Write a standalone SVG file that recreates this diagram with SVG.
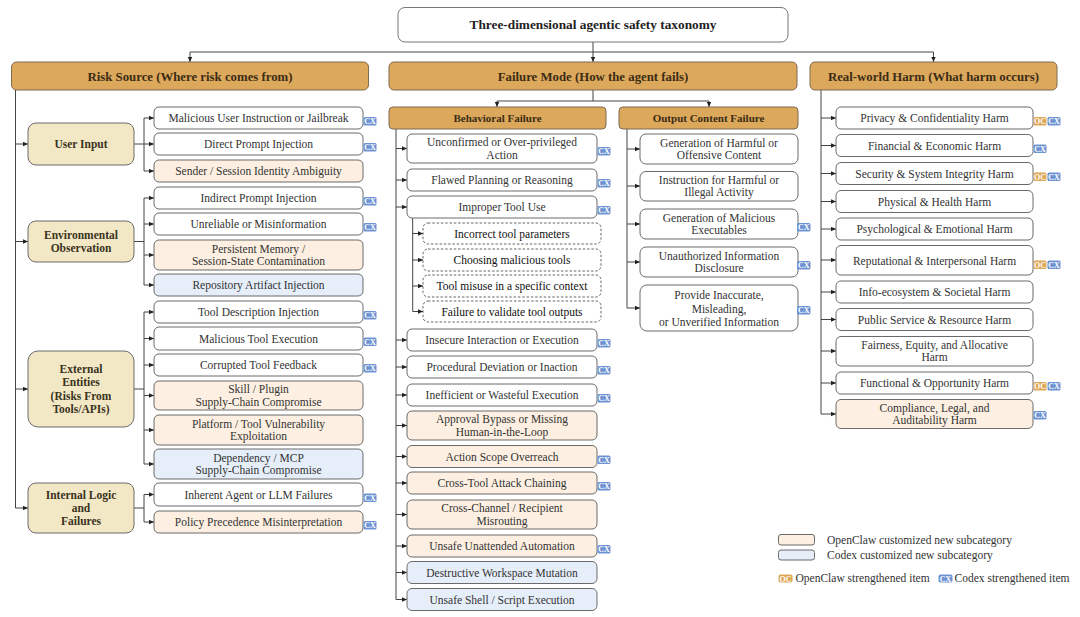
<svg xmlns="http://www.w3.org/2000/svg" width="1080" height="617" viewBox="0 0 1080 617">
<style>
text{font-family:"Liberation Serif","Times New Roman",serif;}
.t{font-size:11.5px;fill:#333;text-anchor:middle;}
.td{font-size:11.5px;fill:#111;text-anchor:middle;}
.hb{font-size:12.8px;font-weight:bold;fill:#3b2c14;text-anchor:middle;}
.sb{font-size:11px;font-weight:bold;fill:#3b2c14;text-anchor:middle;}
.cb{font-size:11.5px;font-weight:bold;fill:#3a3320;text-anchor:middle;}
.title{font-size:13.3px;font-weight:bold;fill:#222;text-anchor:middle;}
.hdr{fill:#DCA85C;stroke:#7d6a4f;stroke-width:1;}
.cat{fill:#F3E8C6;stroke:#6a6a6a;stroke-width:1;}
.lf{fill:#fff;stroke:#6a6a6a;stroke-width:1;}
.pe{fill:#FDF0E2;stroke:#6a6a6a;stroke-width:1;}
.bl{fill:#E6EEFA;stroke:#6a6a6a;stroke-width:1;}
.da{fill:#fff;stroke:#555;stroke-width:0.9;stroke-dasharray:2.5,1.8;}
.cx{fill:#6E93D3;}
.oc{fill:#DDA757;}
.bt{font-size:8px;font-weight:bold;fill:#fff;text-anchor:middle;}
.lg{font-size:11.5px;fill:#333;}
.cn{fill:none;stroke:#444;stroke-width:1;}
.ar{fill:none;stroke:#444;stroke-width:1;marker-end:url(#ah);}
</style>
<defs>
<marker id="ah" markerUnits="userSpaceOnUse" markerWidth="6" markerHeight="6" refX="5" refY="2.2" orient="auto">
<path d="M0,0 L5,2.2 L0,4.4 z" fill="#222"/>
</marker>
</defs>
<rect width="1080" height="617" fill="#fff"/>

<g id="connectors">
<path class="cn" d="M593,42 V52 M190,52 H933.5"/>
<path class="ar" d="M190,52 V62"/>
<path class="ar" d="M593,52 V62"/>
<path class="ar" d="M933.5,52 V62"/>
<!-- left trunk -->
<path class="cn" d="M15.5,90 V508"/>
<path class="ar" d="M15.5,144 H28"/>
<path class="ar" d="M15.5,241.5 H28"/>
<path class="ar" d="M15.5,389 H28"/>
<path class="ar" d="M15.5,508 H28"/>
<!-- user input -->
<path class="cn" d="M134,144 H144 M144,118 V171"/>
<path class="ar" d="M144,118 H154"/>
<path class="ar" d="M144,144 H154"/>
<path class="ar" d="M144,171 H154"/>
<!-- env obs -->
<path class="cn" d="M134,241.5 H144 M144,198 V285"/>
<path class="ar" d="M144,198 H154"/>
<path class="ar" d="M144,224 H154"/>
<path class="ar" d="M144,255 H154"/>
<path class="ar" d="M144,285 H154"/>
<!-- external -->
<path class="cn" d="M134,389 H144 M144,312 V464"/>
<path class="ar" d="M144,312 H154"/>
<path class="ar" d="M144,338.5 H154"/>
<path class="ar" d="M144,365 H154"/>
<path class="ar" d="M144,395.5 H154"/>
<path class="ar" d="M144,430 H154"/>
<path class="ar" d="M144,464 H154"/>
<!-- internal -->
<path class="cn" d="M134,508 H144 M144,494.5 V522"/>
<path class="ar" d="M144,494.5 H154"/>
<path class="ar" d="M144,522 H154"/>
<!-- failure mode -->
<path class="cn" d="M593,90 V101 M497,101 H709"/>
<path class="ar" d="M497,101 V107"/>
<path class="ar" d="M709,101 V107"/>
<!-- behavioral trunk -->
<path class="cn" d="M396,129 V599.5"/>
<path class="ar" d="M396,148.5 H407"/>
<path class="ar" d="M396,180 H407"/>
<path class="ar" d="M396,207 H407"/>
<path class="ar" d="M396,340 H407"/>
<path class="ar" d="M396,367 H407"/>
<path class="ar" d="M396,395 H407"/>
<path class="ar" d="M396,425.5 H407"/>
<path class="ar" d="M396,456.5 H407"/>
<path class="ar" d="M396,483 H407"/>
<path class="ar" d="M396,514.5 H407"/>
<path class="ar" d="M396,546 H407"/>
<path class="ar" d="M396,572.5 H407"/>
<path class="ar" d="M396,599.5 H407"/>
<!-- improper tool sub -->
<path class="cn" d="M412.7,218 V311.5"/>
<path class="ar" d="M412.7,233.5 H423"/>
<path class="ar" d="M412.7,260 H423"/>
<path class="ar" d="M412.7,286 H423"/>
<path class="ar" d="M412.7,311.5 H423"/>
<!-- output trunk -->
<path class="cn" d="M627,129 V308"/>
<path class="ar" d="M627,149 H640"/>
<path class="ar" d="M627,186 H640"/>
<path class="ar" d="M627,224 H640"/>
<path class="ar" d="M627,262 H640"/>
<path class="ar" d="M627,308 H640"/>
<!-- harm trunk -->
<path class="cn" d="M821,90 V414"/>
<path class="ar" d="M821,118 H836"/>
<path class="ar" d="M821,145.5 H836"/>
<path class="ar" d="M821,173.5 H836"/>
<path class="ar" d="M821,201.5 H836"/>
<path class="ar" d="M821,229 H836"/>
<path class="ar" d="M821,260 H836"/>
<path class="ar" d="M821,292 H836"/>
<path class="ar" d="M821,319.5 H836"/>
<path class="ar" d="M821,351 H836"/>
<path class="ar" d="M821,383 H836"/>
<path class="ar" d="M821,414 H836"/>
</g>

<g id="title"><rect x="398" y="7.5" width="390" height="34.5" rx="7" fill="#fff" stroke="#777"/><text class="title" x="593" y="29">Three-dimensional agentic safety taxonomy</text></g>

<g id="h-risk"><rect class="hdr" x="11.5" y="62" width="357" height="28" rx="5"/><text class="hb" x="190" y="80.5">Risk Source (Where risk comes from)</text></g>
<g id="h-failure"><rect class="hdr" x="389" y="62" width="408" height="28" rx="5"/><text class="hb" x="593" y="80.5">Failure Mode (How the agent fails)</text></g>
<g id="h-harm"><rect class="hdr" x="810" y="62" width="247" height="28" rx="5"/><text class="hb" x="933.5" y="80.5">Real-world Harm (What harm occurs)</text></g>

<!-- categories -->
<g id="c-user"><rect class="cat" x="28" y="123" width="106" height="42" rx="8"/><text class="cb" x="81" y="148">User Input</text></g>
<g id="c-env"><rect class="cat" x="28" y="221" width="106" height="41" rx="8"/><text class="cb" x="81" y="239">Environmental</text><text class="cb" x="81" y="251.5">Observation</text></g>
<g id="c-ext"><rect class="cat" x="28" y="351" width="106" height="76" rx="10"/><text class="cb" x="81" y="373">External</text><text class="cb" x="81" y="386.3">Entities</text><text class="cb" x="81" y="399.6">(Risks From</text><text class="cb" x="81" y="412.9">Tools/APIs)</text></g>
<g id="c-int"><rect class="cat" x="28" y="483" width="106" height="50" rx="8"/><text class="cb" x="81" y="498.5">Internal Logic</text><text class="cb" x="81" y="511.8">and</text><text class="cb" x="81" y="525.1">Failures</text></g>

<!-- left leaves -->
<g id="l1"><rect class="lf" x="154" y="107" width="209" height="22" rx="5"/><text class="t" x="258.5" y="122">Malicious User Instruction or Jailbreak</text><rect class="cx" x="363.5" y="117" width="13" height="8.5" rx="1.5"/><text class="bt" x="370" y="124">CX</text></g>
<g id="l2"><rect class="lf" x="154" y="133" width="209" height="22" rx="5"/><text class="t" x="258.5" y="148">Direct Prompt Injection</text><rect class="cx" x="363.5" y="143" width="13" height="8.5" rx="1.5"/><text class="bt" x="370" y="150">CX</text></g>
<g id="l3"><rect class="pe" x="154" y="160" width="209" height="22" rx="5"/><text class="t" x="258.5" y="175">Sender / Session Identity Ambiguity</text></g>
<g id="l4"><rect class="lf" x="154" y="187" width="209" height="22" rx="5"/><text class="t" x="258.5" y="202">Indirect Prompt Injection</text><rect class="cx" x="363.5" y="197" width="13" height="8.5" rx="1.5"/><text class="bt" x="370" y="204">CX</text></g>
<g id="l5"><rect class="lf" x="154" y="213" width="209" height="22" rx="5"/><text class="t" x="258.5" y="228">Unreliable or Misinformation</text><rect class="cx" x="363.5" y="223" width="13" height="8.5" rx="1.5"/><text class="bt" x="370" y="230">CX</text></g>
<g id="l6"><rect class="pe" x="154" y="240" width="209" height="30" rx="5"/><text class="t" x="258.5" y="252.7">Persistent Memory /</text><text class="t" x="258.5" y="265.2">Session-State Contamination</text></g>
<g id="l7"><rect class="bl" x="154" y="274" width="209" height="22" rx="5"/><text class="t" x="258.5" y="289">Repository Artifact Injection</text></g>
<g id="l8"><rect class="lf" x="154" y="301" width="209" height="22" rx="5"/><text class="t" x="258.5" y="316">Tool Description Injection</text><rect class="cx" x="363.5" y="311" width="13" height="8.5" rx="1.5"/><text class="bt" x="370" y="318">CX</text></g>
<g id="l9"><rect class="lf" x="154" y="327" width="209" height="23" rx="5"/><text class="t" x="258.5" y="342.5">Malicious Tool Execution</text><rect class="cx" x="363.5" y="337.5" width="13" height="8.5" rx="1.5"/><text class="bt" x="370" y="344.5">CX</text></g>
<g id="l10"><rect class="lf" x="154" y="354" width="209" height="22" rx="5"/><text class="t" x="258.5" y="369">Corrupted Tool Feedback</text><rect class="cx" x="363.5" y="364" width="13" height="8.5" rx="1.5"/><text class="bt" x="370" y="371">CX</text></g>
<g id="l11"><rect class="pe" x="154" y="381" width="209" height="29" rx="5"/><text class="t" x="258.5" y="393.2">Skill / Plugin</text><text class="t" x="258.5" y="405.7">Supply-Chain Compromise</text></g>
<g id="l12"><rect class="pe" x="154" y="415" width="209" height="30" rx="5"/><text class="t" x="258.5" y="427.7">Platform / Tool Vulnerability</text><text class="t" x="258.5" y="440.2">Exploitation</text></g>
<g id="l13"><rect class="bl" x="154" y="449" width="209" height="30" rx="5"/><text class="t" x="258.5" y="461.7">Dependency / MCP</text><text class="t" x="258.5" y="474.2">Supply-Chain Compromise</text></g>
<g id="l14"><rect class="lf" x="154" y="483" width="209" height="23" rx="5"/><text class="t" x="258.5" y="498.5">Inherent Agent or LLM Failures</text><rect class="cx" x="363.5" y="493.5" width="13" height="8.5" rx="1.5"/><text class="bt" x="370" y="500.5">CX</text></g>
<g id="l15"><rect class="pe" x="154" y="511" width="209" height="22" rx="5"/><text class="t" x="258.5" y="526">Policy Precedence Misinterpretation</text><rect class="cx" x="363.5" y="521" width="13" height="8.5" rx="1.5"/><text class="bt" x="370" y="528">CX</text></g>

<!-- behavioral -->
<g id="s-beh"><rect class="hdr" x="389" y="107" width="217" height="22" rx="4"/><text class="sb" x="497.5" y="122">Behavioral Failure</text></g>
<g id="s-out"><rect class="hdr" x="619" y="107" width="179" height="22" rx="4"/><text class="sb" x="708.5" y="122">Output Content Failure</text></g>

<g id="b1"><rect class="lf" x="407" y="134" width="190" height="29" rx="5"/><text class="t" x="502" y="146.3">Unconfirmed or Over-privileged</text><text class="t" x="502" y="158.8">Action</text><rect class="cx" x="597.5" y="147" width="13" height="8.5" rx="1.5"/><text class="bt" x="604" y="154">CX</text></g>
<g id="b2"><rect class="lf" x="407" y="169" width="190" height="22" rx="5"/><text class="t" x="502" y="184">Flawed Planning or Reasoning</text><rect class="cx" x="597.5" y="179" width="13" height="8.5" rx="1.5"/><text class="bt" x="604" y="186">CX</text></g>
<g id="b3"><rect class="lf" x="407" y="196" width="190" height="22" rx="5"/><text class="t" x="502" y="211">Improper Tool Use</text><rect class="cx" x="597.5" y="206" width="13" height="8.5" rx="1.5"/><text class="bt" x="604" y="213">CX</text></g>
<g id="b3a"><rect class="da" x="423" y="223" width="178" height="21" rx="5"/><text class="td" x="512" y="237.5">Incorrect tool parameters</text></g>
<g id="b3b"><rect class="da" x="423" y="249" width="178" height="22" rx="5"/><text class="td" x="512" y="264">Choosing malicious tools</text></g>
<g id="b3c"><rect class="da" x="423" y="275" width="178" height="22" rx="5"/><text class="td" x="512" y="290">Tool misuse in a specific context</text></g>
<g id="b3d"><rect class="da" x="423" y="301" width="178" height="21" rx="5"/><text class="td" x="512" y="315.5">Failure to validate tool outputs</text></g>
<g id="b4"><rect class="lf" x="407" y="329" width="190" height="22" rx="5"/><text class="t" x="502" y="344">Insecure Interaction or Execution</text><rect class="cx" x="597.5" y="339" width="13" height="8.5" rx="1.5"/><text class="bt" x="604" y="346">CX</text></g>
<g id="b5"><rect class="lf" x="407" y="356" width="190" height="22" rx="5"/><text class="t" x="502" y="371">Procedural Deviation or Inaction</text><rect class="cx" x="597.5" y="366" width="13" height="8.5" rx="1.5"/><text class="bt" x="604" y="373">CX</text></g>
<g id="b6"><rect class="lf" x="407" y="384" width="190" height="22" rx="5"/><text class="t" x="502" y="399">Inefficient or Wasteful Execution</text><rect class="cx" x="597.5" y="394" width="13" height="8.5" rx="1.5"/><text class="bt" x="604" y="401">CX</text></g>
<g id="b7"><rect class="pe" x="407" y="411" width="190" height="29" rx="5"/><text class="t" x="502" y="423.3">Approval Bypass or Missing</text><text class="t" x="502" y="435.8">Human-in-the-Loop</text></g>
<g id="b8"><rect class="pe" x="407" y="445.5" width="190" height="22" rx="5"/><text class="t" x="502" y="460.5">Action Scope Overreach</text><rect class="cx" x="597.5" y="455.5" width="13" height="8.5" rx="1.5"/><text class="bt" x="604" y="462.5">CX</text></g>
<g id="b9"><rect class="pe" x="407" y="472" width="190" height="22" rx="5"/><text class="t" x="502" y="487">Cross-Tool Attack Chaining</text><rect class="cx" x="597.5" y="482" width="13" height="8.5" rx="1.5"/><text class="bt" x="604" y="489">CX</text></g>
<g id="b10"><rect class="pe" x="407" y="500" width="190" height="29" rx="5"/><text class="t" x="502" y="512.3">Cross-Channel / Recipient</text><text class="t" x="502" y="524.8">Misrouting</text></g>
<g id="b11"><rect class="pe" x="407" y="535" width="190" height="22" rx="5"/><text class="t" x="502" y="550">Unsafe Unattended Automation</text><rect class="cx" x="597.5" y="545" width="13" height="8.5" rx="1.5"/><text class="bt" x="604" y="552">CX</text></g>
<g id="b12"><rect class="bl" x="407" y="561.5" width="190" height="22" rx="5"/><text class="t" x="502" y="576.5">Destructive Workspace Mutation</text></g>
<g id="b13"><rect class="bl" x="407" y="588.5" width="190" height="22" rx="5"/><text class="t" x="502" y="603.5">Unsafe Shell / Script Execution</text></g>

<!-- output -->
<g id="o1"><rect class="lf" x="640" y="134" width="158" height="30" rx="6"/><text class="t" x="719" y="146.7">Generation of Harmful or</text><text class="t" x="719" y="159.2">Offensive Content</text></g>
<g id="o2"><rect class="lf" x="640" y="171.5" width="158" height="29.5" rx="6"/><text class="t" x="719" y="183.7">Instruction for Harmful or</text><text class="t" x="719" y="196.2">Illegal Activity</text></g>
<g id="o3"><rect class="lf" x="640" y="209" width="158" height="30" rx="6"/><text class="t" x="719" y="221.7">Generation of Malicious</text><text class="t" x="719" y="234.2">Executables</text><rect class="cx" x="797" y="223" width="13.5" height="8.5" rx="1.5"/><text class="bt" x="803.8" y="230">CX</text></g>
<g id="o4"><rect class="lf" x="640" y="247" width="158" height="30" rx="6"/><text class="t" x="719" y="259.7">Unauthorized Information</text><text class="t" x="719" y="272.2">Disclosure</text><rect class="cx" x="797" y="261" width="13.5" height="8.5" rx="1.5"/><text class="bt" x="803.8" y="268">CX</text></g>
<g id="o5"><rect class="lf" x="640" y="285" width="158" height="46" rx="7"/><text class="t" x="719" y="299">Provide Inaccurate,</text><text class="t" x="719" y="312.5">Misleading,</text><text class="t" x="719" y="326">or Unverified Information</text><rect class="cx" x="797" y="306" width="13.5" height="8.5" rx="1.5"/><text class="bt" x="803.8" y="313">CX</text></g>

<!-- harm -->
<g id="r1"><rect class="lf" x="836" y="107" width="197" height="22" rx="5"/><text class="t" x="934.5" y="122">Privacy &amp; Confidentiality Harm</text><rect class="oc" x="1033.5" y="117" width="13" height="8.5" rx="1.5"/><text class="bt" x="1040" y="124">OC</text><rect class="cx" x="1047.5" y="117" width="13" height="8.5" rx="1.5"/><text class="bt" x="1054" y="124">CX</text></g>
<g id="r2"><rect class="lf" x="836" y="134.5" width="197" height="22" rx="5"/><text class="t" x="934.5" y="149.5">Financial &amp; Economic Harm</text><rect class="cx" x="1033.5" y="144.5" width="13" height="8.5" rx="1.5"/><text class="bt" x="1040" y="151.5">CX</text></g>
<g id="r3"><rect class="lf" x="836" y="162.5" width="197" height="22" rx="5"/><text class="t" x="934.5" y="177.5">Security &amp; System Integrity Harm</text><rect class="oc" x="1033.5" y="172.5" width="13" height="8.5" rx="1.5"/><text class="bt" x="1040" y="179.5">OC</text><rect class="cx" x="1047.5" y="172.5" width="13" height="8.5" rx="1.5"/><text class="bt" x="1054" y="179.5">CX</text></g>
<g id="r4"><rect class="lf" x="836" y="190.5" width="197" height="22" rx="5"/><text class="t" x="934.5" y="205.5">Physical &amp; Health Harm</text></g>
<g id="r5"><rect class="lf" x="836" y="218" width="197" height="22" rx="5"/><text class="t" x="934.5" y="233">Psychological &amp; Emotional Harm</text></g>
<g id="r6"><rect class="lf" x="836" y="245.5" width="197" height="29.5" rx="5"/><text class="t" x="934.5" y="265">Reputational &amp; Interpersonal Harm</text><rect class="oc" x="1033.5" y="260.5" width="13" height="8.5" rx="1.5"/><text class="bt" x="1040" y="267.5">OC</text><rect class="cx" x="1047.5" y="260.5" width="13" height="8.5" rx="1.5"/><text class="bt" x="1054" y="267.5">CX</text></g>
<g id="r7"><rect class="lf" x="836" y="281" width="197" height="22" rx="5"/><text class="t" x="934.5" y="296">Info-ecosystem &amp; Societal Harm</text></g>
<g id="r8"><rect class="lf" x="836" y="308.5" width="197" height="22" rx="5"/><text class="t" x="934.5" y="323.5">Public Service &amp; Resource Harm</text></g>
<g id="r9"><rect class="lf" x="836" y="336.5" width="197" height="29.5" rx="5"/><text class="t" x="934.5" y="348.8">Fairness, Equity, and Allocative</text><text class="t" x="934.5" y="361.3">Harm</text></g>
<g id="r10"><rect class="lf" x="836" y="372" width="197" height="22" rx="5"/><text class="t" x="934.5" y="387">Functional &amp; Opportunity Harm</text><rect class="oc" x="1033.5" y="382" width="13" height="8.5" rx="1.5"/><text class="bt" x="1040" y="389">OC</text><rect class="cx" x="1047.5" y="382" width="13" height="8.5" rx="1.5"/><text class="bt" x="1054" y="389">CX</text></g>
<g id="r11"><rect class="pe" x="836" y="399.5" width="197" height="29" rx="5"/><text class="t" x="934.5" y="411.8">Compliance, Legal, and</text><text class="t" x="934.5" y="424.3">Auditability Harm</text><rect class="cx" x="1033.5" y="411" width="13" height="8.5" rx="1.5"/><text class="bt" x="1040" y="418">CX</text></g>

<!-- legend -->
<g id="legend">
<rect class="pe" x="778.5" y="534.5" width="36" height="10.5" rx="2.5"/>
<text class="lg" x="827" y="544">OpenClaw customized new subcategory</text>
<rect class="bl" x="778.5" y="550" width="36" height="10" rx="2.5"/>
<text class="lg" x="827" y="559">Codex customized new subcategory</text>
<rect class="oc" x="778.5" y="574.5" width="14" height="8" rx="2"/><text class="bt" x="785.5" y="581.5">OC</text>
<text class="lg" x="795.5" y="582">OpenClaw strengthened item</text>
<rect class="cx" x="938.5" y="574.5" width="14" height="8" rx="2"/><text class="bt" x="945.5" y="581.5">CX</text>
<text class="lg" x="954.5" y="582">Codex strengthened item</text>
</g>
</svg>
